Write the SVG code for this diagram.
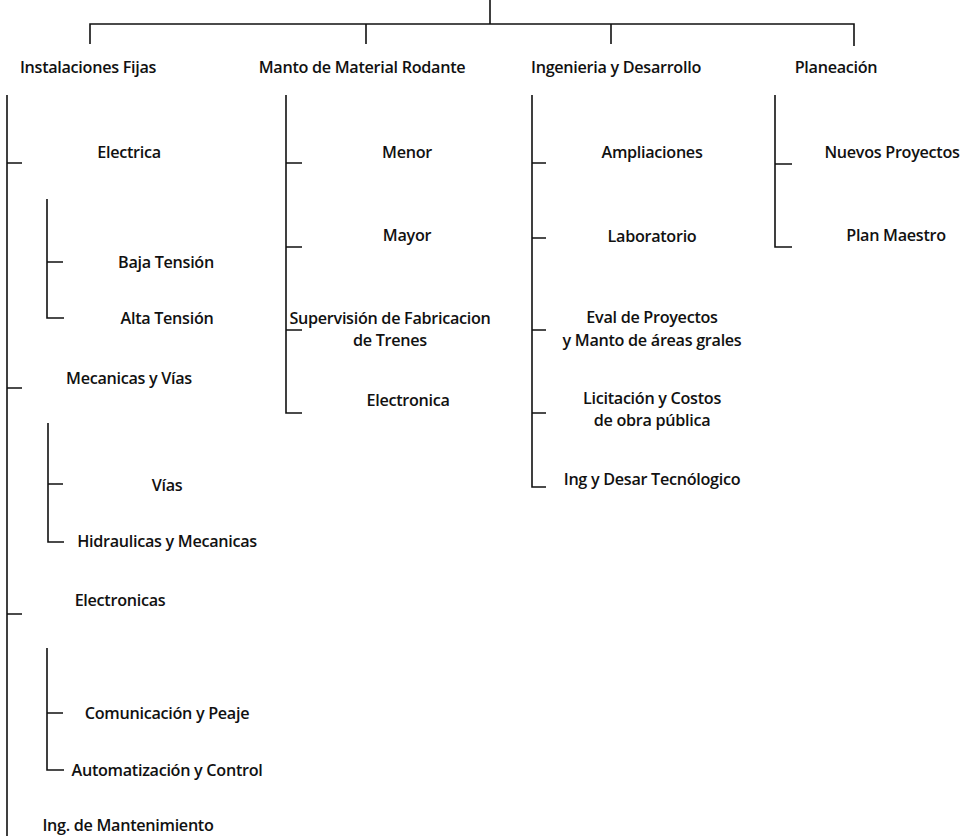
<svg xmlns="http://www.w3.org/2000/svg" width="972" height="836" viewBox="0 0 972 836">
<style>
text{font-family:"Open Sans","Noto Sans","Liberation Sans",sans-serif;font-size:16.2px;fill:#111;text-anchor:middle;font-weight:600;letter-spacing:-0.3px}
.c{fill:none;stroke:#111;stroke-width:1.6}
</style>
<rect width="972" height="836" fill="#fff"/>
<g id="connectors" class="c">
<path d="M490 0V24M90 44V24H854V46M366 24V44M611 24V44"/>
<path d="M7 95V836M7 163H22M7 388H22M7 614H22"/>
<path d="M47 199V318H64M47 262H63"/>
<path d="M48 423V542H64M48 484H63"/>
<path d="M47 648V770H64M47 713H63"/>
<path d="M286 95V413H302M286 163H302M286 247H302M286 330H302"/>
<path d="M532 95V487H546M532 163H546M532 238H546M532 330H546M532 413H546"/>
<path d="M775 95V247H792M775 164H792"/>
</g>
<g id="h1"><text x="88" y="73">Instalaciones Fijas</text></g>
<g id="h2"><text x="362" y="73">Manto de Material Rodante</text></g>
<g id="h3"><text x="616" y="73">Ingenieria y Desarrollo</text></g>
<g id="h4"><text x="836" y="73">Planeación</text></g>
<g id="n-electrica"><text x="129" y="158">Electrica</text></g>
<g id="n-baja"><text x="166" y="268">Baja Tensión</text></g>
<g id="n-alta"><text x="167" y="324">Alta Tensión</text></g>
<g id="n-mecanicas"><text x="129" y="384">Mecanicas y Vías</text></g>
<g id="n-vias"><text x="167" y="491">Vías</text></g>
<g id="n-hidraulicas"><text x="167" y="547">Hidraulicas y Mecanicas</text></g>
<g id="n-electronicas"><text x="120" y="606">Electronicas</text></g>
<g id="n-comunicacion"><text x="167" y="719">Comunicación y Peaje</text></g>
<g id="n-automatizacion"><text x="167" y="776">Automatización y Control</text></g>
<g id="n-ingmant"><text x="128" y="831">Ing. de Mantenimiento</text></g>
<g id="n-menor"><text x="407" y="158">Menor</text></g>
<g id="n-mayor"><text x="407" y="241">Mayor</text></g>
<g id="n-supervision"><text x="390" y="324">Supervisión de Fabricacion</text><text x="390" y="346">de Trenes</text></g>
<g id="n-electronica"><text x="408" y="406">Electronica</text></g>
<g id="n-ampliaciones"><text x="652" y="158">Ampliaciones</text></g>
<g id="n-laboratorio"><text x="652" y="242">Laboratorio</text></g>
<g id="n-eval"><text x="652" y="323">Eval de Proyectos</text><text x="652" y="346">y Manto de áreas grales</text></g>
<g id="n-licitacion"><text x="652" y="404">Licitación y Costos</text><text x="652" y="426">de obra pública</text></g>
<g id="n-ingdesar"><text x="652" y="485">Ing y Desar Tecnólogico</text></g>
<g id="n-nuevos"><text x="892" y="158">Nuevos Proyectos</text></g>
<g id="n-plan"><text x="896" y="241">Plan Maestro</text></g>
</svg>
